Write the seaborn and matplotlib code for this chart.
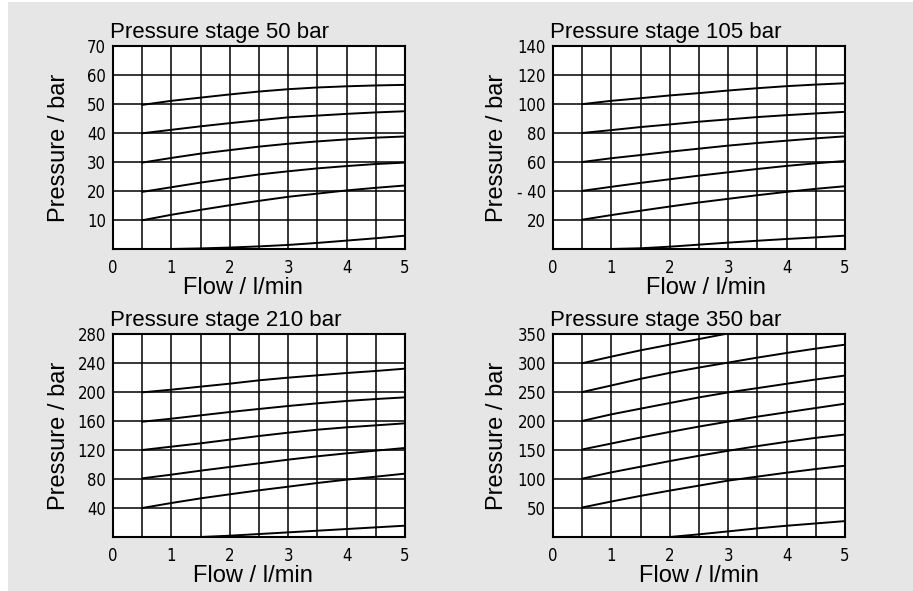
import numpy as np
import matplotlib
matplotlib.use('Agg')
import matplotlib.pyplot as plt
from matplotlib.patches import Rectangle
import seaborn as sns

sns.set_style('white')
plt.rcParams['font.family'] = ['Liberation Sans', 'DejaVu Sans']
plt.rcParams['text.color'] = 'black'
plt.rcParams['axes.labelcolor'] = 'black'
plt.rcParams['xtick.color'] = 'black'
plt.rcParams['ytick.color'] = 'black'

# flow points (l/min) for the setting curves
flow = [0.5, 1.0, 1.5, 2.0, 2.5, 3.0, 3.5, 4.0, 4.5, 5.0]

# --- pressure stage 50 bar ---
p50_curves = [
    [49.7, 51.1, 52.2, 53.3, 54.3, 55.1, 55.7, 56.1, 56.4, 56.6],
    [39.9, 41.1, 42.3, 43.4, 44.4, 45.4, 46.0, 46.6, 47.1, 47.5],
    [29.8, 31.4, 32.9, 34.1, 35.3, 36.3, 37.1, 37.8, 38.4, 38.8],
    [19.7, 21.3, 22.9, 24.3, 25.7, 26.8, 27.8, 28.6, 29.3, 29.8],
    [9.9, 11.8, 13.5, 15.1, 16.6, 18.0, 19.1, 20.2, 21.1, 21.9],
]
p50_low_flow = [1.0, 1.5, 2.0, 2.5, 3.0, 3.5, 4.0, 4.5, 5.0]
p50_low = [0.0, 0.2, 0.5, 0.9, 1.4, 2.1, 2.9, 3.7, 4.6]

# --- pressure stage 105 bar ---
p105_curves = [
    [99.9, 102.2, 104.0, 105.9, 107.5, 109.3, 110.9, 112.3, 113.4, 114.3],
    [80.0, 82.0, 84.1, 85.9, 87.8, 89.4, 91.0, 92.3, 93.5, 94.6],
    [60.0, 62.6, 64.8, 67.1, 69.2, 71.3, 73.1, 74.7, 76.3, 77.7],
    [40.1, 42.9, 45.6, 48.1, 50.6, 52.9, 55.2, 57.3, 59.1, 60.7],
    [20.2, 23.4, 26.4, 29.3, 32.1, 34.6, 37.1, 39.4, 41.5, 43.3],
]
p105_low_flow = [1.0, 1.5, 2.0, 2.5, 3.0, 3.5, 4.0, 4.5, 5.0]
p105_low = [0.0, 0.5, 1.6, 3.0, 4.4, 5.7, 6.9, 8.0, 9.2]

# --- pressure stage 210 bar ---
p210_curves = [
    [199.5, 203.2, 207.4, 211.5, 216.1, 219.8, 223.0, 226.2, 229.0, 232.2],
    [159.0, 163.2, 167.8, 172.4, 176.6, 180.7, 184.4, 187.6, 190.3, 192.6],
    [120.0, 124.6, 129.2, 134.3, 139.3, 143.9, 148.0, 151.3, 154.0, 156.8],
    [80.9, 86.0, 91.5, 96.6, 101.6, 106.7, 111.3, 115.4, 119.1, 122.8],
    [40.0, 46.9, 53.3, 58.9, 64.4, 69.4, 74.5, 79.1, 83.2, 87.4],
]
p210_low_flow = [1.5, 2.0, 2.5, 3.0, 3.5, 4.0, 4.5, 5.0]
p210_low = [0.0, 1.8, 4.1, 6.4, 8.7, 11.0, 13.3, 15.6]

# --- pressure stage 350 bar ---
p350_curves = [
    [299.6, 311.0, 321.9, 331.6, 341.3, 351.0, np.nan, np.nan, np.nan, np.nan],
    [249.9, 261.3, 272.7, 283.0, 292.2, 300.7, 309.3, 317.3, 324.8, 331.6],
    [200.1, 211.5, 221.3, 231.0, 240.7, 249.3, 256.7, 264.2, 271.6, 278.4],
    [150.9, 161.2, 171.5, 181.2, 190.4, 199.0, 207.5, 215.0, 222.4, 229.8],
    [100.6, 111.5, 121.2, 130.9, 140.1, 148.7, 156.7, 164.1, 171.0, 176.7],
    [50.9, 61.2, 70.9, 80.0, 88.6, 97.2, 104.1, 110.9, 117.2, 122.9],
]
p350_low_flow = [2.0, 2.5, 3.0, 3.5, 4.0, 4.5, 5.0]
p350_low = [0.0, 4.6, 9.7, 14.9, 19.4, 23.4, 27.4]

titles = ['Pressure stage 50 bar', 'Pressure stage 105 bar',
          'Pressure stage 210 bar', 'Pressure stage 350 bar']
y_max = [70, 140, 280, 350]
y_ticks = [
    [10, 20, 30, 40, 50, 60, 70],
    [20, 40, 60, 80, 100, 120, 140],
    [40, 80, 120, 160, 200, 240, 280],
    [50, 100, 150, 200, 250, 300, 350],
]
y_ticklabels = [
    ['10', '20', '30', '40', '50', '60', '70'],
    ['20', '- 40', '60', '80', '100', '120', '140'],
    ['40', '80', '120', '160', '200', '240', '280'],
    ['50', '100', '150', '200', '250', '300', '350'],
]
x_ticks = [0, 1, 2, 3, 4, 5]

panels = [
    (p50_curves, p50_low_flow, p50_low),
    (p105_curves, p105_low_flow, p105_low),
    (p210_curves, p210_low_flow, p210_low),
    (p350_curves, p350_low_flow, p350_low),
]

W, H = 913, 591
fig = plt.figure(figsize=(W / 100, H / 100), dpi=100, facecolor='white')
fig.patches.append(Rectangle((8 / W, 0), 1 - 8 / W, 1 - 2 / H, transform=fig.transFigure,
                             facecolor='#e6e6e6', edgecolor='none', zorder=-10))

# axes boxes in pixels: left, top
boxes = [(113, 46), (553, 46), (113, 334), (553, 334)]
aw, ah = 292, 203
ylab_x = [-0.147, -0.154, -0.147, -0.154]
xlab_x = [0.445, 0.524, 0.478, 0.50]

tick_font = dict(family='DejaVu Sans', stretch='condensed', size=12)

for i, (curves, low_x, low_y) in enumerate(panels):
    left, top = boxes[i]
    ax = fig.add_axes([left / W, (H - top - ah) / H, aw / W, ah / H])
    ax.set_facecolor('white')
    for c in curves:
        sns.lineplot(x=flow, y=c, ax=ax, color='black', linewidth=1.4,
                     estimator=None, sort=False, zorder=3)
    sns.lineplot(x=low_x, y=low_y, ax=ax, color='black', linewidth=1.4,
                 estimator=None, sort=False, zorder=3)

    ax.set_xlim(0, 5)
    ax.set_ylim(0, y_max[i])
    ax.set_xticks(x_ticks)
    ax.set_xticks(np.arange(0.5, 5, 1.0), minor=True)
    ax.set_yticks(y_ticks[i])
    ax.set_yticklabels(y_ticklabels[i], fontdict=tick_font)
    ax.set_xticklabels([str(t) for t in x_ticks], fontdict=tick_font)
    ax.tick_params(axis='both', which='both', length=0)
    ax.tick_params(axis='x', pad=7)
    ax.tick_params(axis='y', pad=5)
    ax.grid(True, which='both', color='black', linewidth=1.1, zorder=1)
    ax.set_axisbelow(True)
    for s in ax.spines.values():
        s.set_visible(True)
        s.set_color('black')
        s.set_linewidth(1.5)

    ax.set_title(titles[i], loc='left', fontsize=16, pad=6, x=-0.01)
    ax.set_ylabel('Pressure / bar', fontsize=17)
    ax.set_xlabel('Flow / l/min', fontsize=17, va='top')
    ax.yaxis.set_label_coords(ylab_x[i], 0.5)
    ax.xaxis.set_label_coords(xlab_x[i], -0.14)

fig.savefig('out.png', dpi=100, facecolor=fig.get_facecolor())
